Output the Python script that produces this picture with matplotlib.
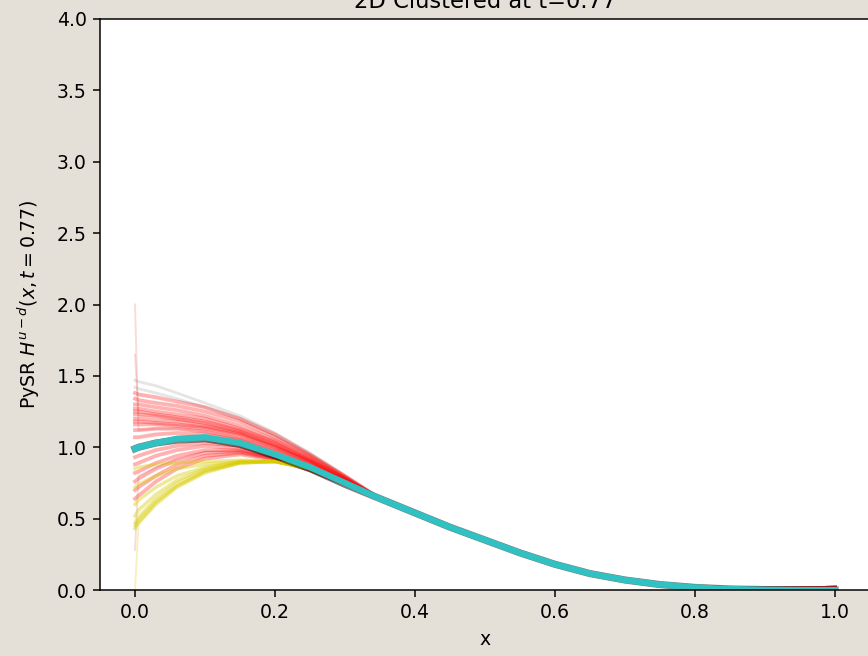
import numpy as np
import matplotlib
matplotlib.use("Agg")
import matplotlib.pyplot as plt

# x grid: dense near 0 (head), coarse tail shared by all curves
x_head = [0.0, 0.005, 0.03, 0.06, 0.1, 0.15, 0.2, 0.25, 0.3]
x_tail = [0.35, 0.4, 0.45, 0.5, 0.55, 0.6, 0.65, 0.7, 0.75, 0.8, 0.85, 0.9, 0.95, 1.0]

tail = [0.64, 0.54, 0.44, 0.35, 0.26, 0.18, 0.115, 0.07, 0.038, 0.018, 0.007, 0.003, 0.001, 0.0]
red_tail = [0.64, 0.54, 0.44, 0.35, 0.26, 0.18, 0.115, 0.07, 0.04, 0.022, 0.013, 0.011, 0.012, 0.016]

mean_head = [0.99, 1.00, 1.03, 1.06, 1.07, 1.03, 0.95, 0.86, 0.75]
true_head = [0.99, 1.00, 1.03, 1.05, 1.06, 1.02, 0.94, 0.85, 0.74]

red_heads = [
    [1.38, 1.37, 1.35, 1.32, 1.28, 1.20, 1.09, 0.95, 0.80],
    [1.34, 1.33, 1.31, 1.29, 1.25, 1.18, 1.07, 0.94, 0.79],
    [1.30, 1.30, 1.28, 1.26, 1.22, 1.15, 1.05, 0.93, 0.79],
    [1.27, 1.27, 1.25, 1.23, 1.20, 1.13, 1.04, 0.92, 0.78],
    [1.25, 1.25, 1.23, 1.21, 1.18, 1.12, 1.03, 0.91, 0.78],
    [1.23, 1.23, 1.22, 1.20, 1.17, 1.11, 1.02, 0.91, 0.78],
    [1.20, 1.20, 1.19, 1.18, 1.15, 1.10, 1.01, 0.90, 0.77],
    [1.18, 1.18, 1.17, 1.16, 1.14, 1.09, 1.00, 0.90, 0.77],
    [1.16, 1.16, 1.16, 1.15, 1.13, 1.08, 1.00, 0.89, 0.77],
    [1.12, 1.12, 1.13, 1.13, 1.11, 1.06, 0.98, 0.88, 0.76],
    [1.07, 1.07, 1.09, 1.10, 1.09, 1.05, 0.97, 0.87, 0.76],
    [0.93, 0.94, 0.98, 1.01, 1.03, 1.01, 0.94, 0.85, 0.75],
    [0.88, 0.89, 0.94, 0.98, 1.01, 0.99, 0.93, 0.85, 0.75],
    [0.82, 0.83, 0.89, 0.94, 0.98, 0.98, 0.93, 0.85, 0.75],
    [0.76, 0.78, 0.85, 0.91, 0.96, 0.97, 0.92, 0.84, 0.74],
    [0.70, 0.72, 0.80, 0.88, 0.94, 0.96, 0.92, 0.84, 0.74],
    [0.64, 0.66, 0.76, 0.85, 0.92, 0.95, 0.91, 0.84, 0.74],
]

# curves whose value at x=0 jumps away (thin vertical spikes)
spike_heads = [
    [2.00, 1.12, 1.13, 1.13, 1.11, 1.06, 0.98, 0.88, 0.76],
    [1.65, 1.22, 1.21, 1.19, 1.16, 1.10, 1.01, 0.90, 0.77],
    [0.28, 0.80, 0.86, 0.92, 0.97, 0.97, 0.92, 0.84, 0.74],
]

grey_heads = [
    [1.47, 1.46, 1.43, 1.38, 1.31, 1.22, 1.10, 0.96, 0.80],
    [1.42, 1.41, 1.38, 1.34, 1.28, 1.20, 1.08, 0.95, 0.80],
]

yellow_heads = [
    [0.43, 0.47, 0.60, 0.72, 0.82, 0.89, 0.90, 0.85, 0.75],
    [0.45, 0.49, 0.62, 0.73, 0.83, 0.89, 0.90, 0.85, 0.75],
    [0.47, 0.51, 0.64, 0.75, 0.84, 0.89, 0.90, 0.85, 0.75],
    [0.52, 0.56, 0.67, 0.77, 0.85, 0.90, 0.90, 0.85, 0.75],
    [0.60, 0.63, 0.72, 0.80, 0.86, 0.90, 0.90, 0.85, 0.75],
    [0.72, 0.74, 0.80, 0.85, 0.88, 0.90, 0.90, 0.85, 0.75],
    [0.85, 0.86, 0.88, 0.89, 0.90, 0.91, 0.90, 0.85, 0.75],
]
yellow_spike = [0.00, 0.46, 0.61, 0.73, 0.83, 0.89, 0.90, 0.85, 0.75]

xs = np.array(x_head + x_tail)

fig = plt.figure(figsize=(868 / 136, 656 / 136), dpi=136, facecolor="#e4dfd7")
ax = fig.add_axes([100 / 868, 66 / 656, 770 / 868, 571 / 656])

for h in grey_heads:
    ax.plot(xs, h + tail, color="grey", alpha=0.2, lw=1.5)
for h in spike_heads:
    ax.plot(xs, h + red_tail, color="#e05050", alpha=0.2, lw=1.0)
ax.plot(xs, yellow_spike + tail, color="#d8cc00", alpha=0.25, lw=1.0)
for h in red_heads:
    ax.plot(xs, h + red_tail, color="red", alpha=0.3, lw=2.0, solid_joinstyle="round")
for h in yellow_heads:
    ax.plot(xs, h + tail, color="#d8cc00", alpha=0.4, lw=1.8, solid_joinstyle="round")

ax.plot(xs, true_head + tail, color="k", alpha=0.5, lw=3.8)
ax.plot(xs, mean_head + tail, color="#30c2c2", lw=3.3)

ax.set_ylim(0, 4)
ax.set_xlim(-0.05, 1.05)
ax.set_yticks(np.arange(0, 4.01, 0.5))
ax.set_xlabel("x")
ax.set_ylabel("PySR $H^{u-d}(x, t=0.77)$", labelpad=8)
ax.set_title("2D Clustered at t=0.77")

fig.savefig("out.png", dpi=136, facecolor=fig.get_facecolor())
